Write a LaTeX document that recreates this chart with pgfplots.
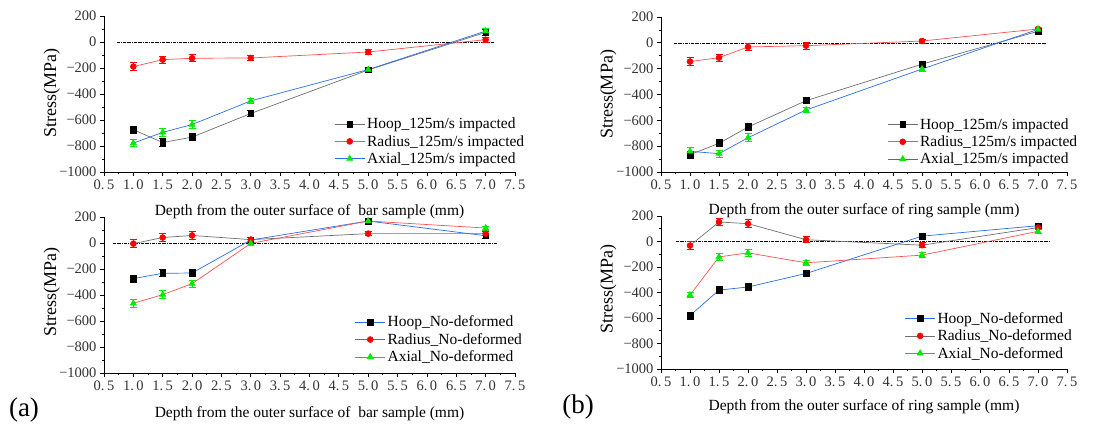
\documentclass[border=0pt]{standalone}
\usepackage{pgfplots}
\pgfplotsset{compat=1.18}
\usepackage{pgfplotstable}
\usepackage{fontspec}
\setmainfont{Liberation Serif}

\definecolor{lgray}{RGB}{110,110,110}
\definecolor{lred}{RGB}{255,80,80}
\definecolor{lblue}{RGB}{40,110,230}
\definecolor{mgreen}{RGB}{0,235,0}

% x  y  err
\pgfplotstableread{
x y e
1.0 -675 28
1.5 -773 28
2.0 -732 28
3.0 -550 22
5.0 -215 18
7.0 74 22
}\aHoopI
\pgfplotstableread{
x y e
1.0 -189 28
1.5 -136 28
2.0 -125 28
3.0 -123 22
5.0 -77 18
7.0 18 18
}\aRadI
\pgfplotstableread{
x y e
1.0 -778 28
1.5 -695 28
2.0 -635 28
3.0 -453 22
5.0 -212 18
7.0 84 18
}\aAxI
\pgfplotstableread{
x y e
1.0 -274 28
1.5 -233 26
2.0 -231 26
3.0 23 18
5.0 169 15
7.0 56 18
}\aHoopN
\pgfplotstableread{
x y e
1.0 -5 30
1.5 42 30
2.0 58 28
3.0 26 18
5.0 72 15
7.0 72 15
}\aRadN
\pgfplotstableread{
x y e
1.0 -464 28
1.5 -397 30
2.0 -313 28
3.0 -3 18
5.0 169 15
7.0 115 15
}\aAxN
\pgfplotstableread{
x y e
1.0 -866 28
1.5 -778 28
2.0 -652 28
3.0 -448 22
5.0 -165 18
7.0 89 18
}\bHoopI
\pgfplotstableread{
x y e
1.0 -145 28
1.5 -115 28
2.0 -32 30
3.0 -22 28
5.0 14 15
7.0 107 15
}\bRadI
\pgfplotstableread{
x y e
1.0 -840 30
1.5 -858 28
2.0 -735 30
3.0 -520 22
5.0 -203 18
7.0 104 18
}\bAxI
\pgfplotstableread{
x y e
1.0 -581 28
1.5 -381 28
2.0 -357 28
3.0 -251 22
5.0 42 15
7.0 124 18
}\bHoopN
\pgfplotstableread{
x y e
1.0 -32 30
1.5 153 28
2.0 140 30
3.0 14 22
5.0 -29 18
7.0 109 18
}\bRadN
\pgfplotstableread{
x y e
1.0 -420 22
1.5 -121 25
2.0 -89 28
3.0 -167 22
5.0 -107 18
7.0 80 18
}\bAxN

\pgfplotsset{
  panel/.style={
    scale only axis,
    xmin=0.5, xmax=7.5, ymin=-1000, ymax=200,
    axis x line*=bottom, axis y line*=left,
    axis line style={line width=0.8pt},
    tick align=outside,
    major tick length=4pt, minor tick length=2.2pt,
    every tick/.style={line width=0.8pt, black},
    minor x tick num=1, minor y tick num=1,
    xtick={0.5,1,1.5,2,2.5,3,3.5,4,4.5,5,5.5,6,6.5,7,7.5},
    xticklabels={0.\,5,1.\,0,1.\,5,2.\,0,2.\,5,3.\,0,3.\,5,4.\,0,4.\,5,5.\,0,5.\,5,6.\,0,6.\,5,7.\,0,7.\,5},
    ytick={-1000,-800,-600,-400,-200,0,200},
    yticklabels={−1000,−800,−600,−400,−200,0,200},
    tick label style={font=\fontsize{14.5}{16}\selectfont, text=black!80},
    ylabel={Stress(MPa)},
    xlabel style={font=\fontsize{15.5}{17}\selectfont},
    ylabel style={font=\fontsize{18}{20}\selectfont},
    legend style={draw=none, fill=none, font=\fontsize{15.5}{17}\selectfont,
      anchor=north west, row sep=1pt, inner sep=0pt},
    legend cell align=left,
    legend image code/.code={\draw[mark repeat=2,mark phase=2] plot coordinates {(0pt,0pt)(15pt,0pt)(30pt,0pt)};},
    clip=false,
  },
  ser/.style n args={2}{color=#1, line width=0.7pt,
    mark options={#2, fill=#2, solid, line width=0.5pt},
    error bars/y dir=both, error bars/y explicit,
    error bars/error bar style={#2, line width=0.9pt},
    error bars/error mark options={rotate=90, #2, mark size=3.5pt, line width=0.9pt}},
  zero/.style={black, line width=0.6pt, densely dashdotted, forget plot},
}

\begin{document}
\begin{tikzpicture}
\useasboundingbox (0,0) rectangle (1105pt,428pt);

% ---------- (a) top ----------
\begin{axis}[panel, at={(104pt,256pt)}, anchor=south west, width=411pt, height=156pt,
  xlabel={Depth from the outer surface of\ \ bar sample (mm)},
  xlabel style={at={(axis description cs:0.5,-0.256)}, anchor=center},
  ylabel style={at={(axis description cs:-0.127,0.506)}, anchor=center},
  legend style={at={(axis description cs:0.56,0.36)}}]
\addplot[zero] coordinates {(0.72,0) (7.15,0)};
\addplot[ser={lgray}{black}, mark=square*, mark size=2.8pt] table[x=x,y=y,y error=e] {\aHoopI};
\addlegendentry{Hoop\_125m/s impacted}
\addplot[ser={lred}{red}, mark=*, mark size=3pt] table[x=x,y=y,y error=e] {\aRadI};
\addlegendentry{Radius\_125m/s impacted}
\addplot[ser={lblue}{mgreen}, mark=triangle*, mark size=3.6pt] table[x=x,y=y,y error=e] {\aAxI};
\addlegendentry{Axial\_125m/s impacted}
\end{axis}

% ---------- (a) bottom ----------
\begin{axis}[panel, at={(104pt,55pt)}, anchor=south west, width=411pt, height=156pt,
  xlabel={Depth from the outer surface of\ \ bar sample (mm)},
  xlabel style={at={(axis description cs:0.5,-0.263)}, anchor=center},
  ylabel style={at={(axis description cs:-0.127,0.52)}, anchor=center},
  legend style={at={(axis description cs:0.61,0.38)}}]
\addplot[zero] coordinates {(0.65,0) (7.2,0)};
\addplot[ser={lblue}{black}, mark=square*, mark size=2.8pt] table[x=x,y=y,y error=e] {\aHoopN};
\addlegendentry{Hoop\_No-deformed}
\addplot[ser={lgray}{red}, mark=*, mark size=3pt] table[x=x,y=y,y error=e] {\aRadN};
\addlegendentry{Radius\_No-deformed}
\addplot[ser={lred}{mgreen}, mark=triangle*, mark size=3.6pt] table[x=x,y=y,y error=e] {\aAxN};
\addlegendentry{Axial\_No-deformed}
\end{axis}

% ---------- (b) top ----------
\begin{axis}[panel, at={(661pt,256pt)}, anchor=south west, width=406pt, height=155pt,
  xlabel={Depth from the outer surface of ring sample (mm)},
  xlabel style={at={(axis description cs:0.5,-0.25)}, anchor=center},
  ylabel style={at={(axis description cs:-0.13,0.5)}, anchor=center},
  legend style={at={(axis description cs:0.557,0.36)}}]
\addplot[zero] coordinates {(0.72,0) (7.15,0)};
\addplot[ser={lgray}{black}, mark=square*, mark size=2.8pt] table[x=x,y=y,y error=e] {\bHoopI};
\addlegendentry{Hoop\_125m/s impacted}
\addplot[ser={lred}{red}, mark=*, mark size=3pt] table[x=x,y=y,y error=e] {\bRadI};
\addlegendentry{Radius\_125m/s impacted}
\addplot[ser={lblue}{mgreen}, mark=triangle*, mark size=3.6pt] table[x=x,y=y,y error=e] {\bAxI};
\addlegendentry{Axial\_125m/s impacted}
\end{axis}

% ---------- (b) bottom ----------
\begin{axis}[panel, at={(661pt,59pt)}, anchor=south west, width=406pt, height=153pt,
  xlabel={Depth from the outer surface of ring sample (mm)},
  xlabel style={at={(axis description cs:0.5,-0.248)}, anchor=center},
  ylabel style={at={(axis description cs:-0.13,0.52)}, anchor=center},
  legend style={at={(axis description cs:0.60,0.385)}}]
\addplot[zero] coordinates {(0.75,0) (7.2,0)};
\addplot[ser={lblue}{black}, mark=square*, mark size=2.8pt] table[x=x,y=y,y error=e] {\bHoopN};
\addlegendentry{Hoop\_No-deformed}
\addplot[ser={lgray}{red}, mark=*, mark size=3pt] table[x=x,y=y,y error=e] {\bRadN};
\addlegendentry{Radius\_No-deformed}
\addplot[ser={lred}{mgreen}, mark=triangle*, mark size=3.6pt] table[x=x,y=y,y error=e] {\bAxN};
\addlegendentry{Axial\_No-deformed}
\end{axis}

\node[font=\fontsize{27}{29}\selectfont, inner sep=0pt] at (24pt,18pt) {(a)};
\node[font=\fontsize{27}{29}\selectfont, inner sep=0pt] at (578pt,21pt) {(b)};
\end{tikzpicture}
\end{document}
